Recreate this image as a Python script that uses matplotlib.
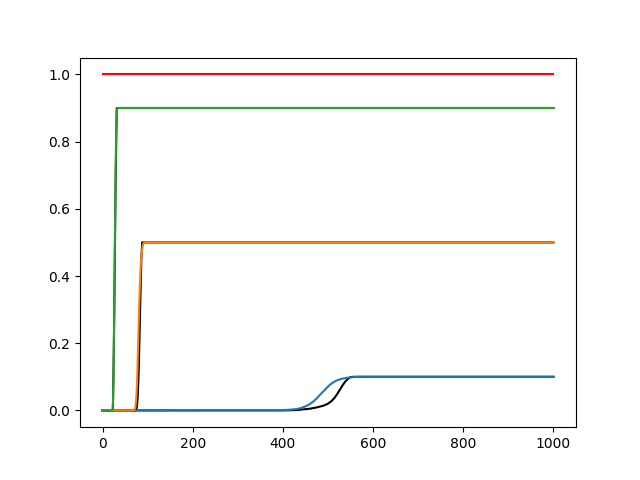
import matplotlib
matplotlib.use("Agg")
import matplotlib.pyplot as plt

# carrying capacity line
cap_x = [0, 1000]
cap_y = [1.0, 1.0]

# black curves (simulated)
sim_lo_x = [0, 400, 430, 445, 460, 475, 490, 500, 508, 515, 521, 527, 533, 539, 545, 550, 556, 1000]
sim_lo_y = [0, 0, 0.001, 0.003, 0.005, 0.009, 0.014, 0.02, 0.028, 0.038, 0.05, 0.063, 0.076, 0.087, 0.095, 0.099, 0.1, 0.1]
sim_mid_x = [0, 74, 76, 78, 80, 82, 84, 86, 88, 90, 1000]
sim_mid_y = [0, 0, 0.01, 0.04, 0.11, 0.22, 0.34, 0.45, 0.5, 0.5, 0.5]
sim_hi_x = [0, 23, 25, 27, 29, 31.5, 1000]
sim_hi_y = [0, 0, 0.18, 0.42, 0.68, 0.9, 0.9]

# coloured fitted curves
fit_lo_x = [0, 380, 400, 416, 430, 440, 450, 460, 468, 475, 482, 490, 497, 504, 511, 519, 530, 542, 555, 570, 1000]
fit_lo_y = [0, 0.0005, 0.001, 0.002, 0.004, 0.007, 0.012, 0.019, 0.027, 0.036, 0.046, 0.057, 0.067, 0.076, 0.083, 0.089, 0.094, 0.097, 0.099, 0.1, 0.1]
fit_mid_x = [0, 70, 73, 75, 77, 79, 81, 83, 85, 87, 89, 92, 96, 1000]
fit_mid_y = [0, 0, 0.01, 0.04, 0.1, 0.2, 0.3, 0.38, 0.44, 0.47, 0.49, 0.5, 0.5, 0.5]
fit_hi_x = [0, 22, 23, 24, 26, 28, 30, 31.5, 33, 1000]
fit_hi_y = [0, 0, 0.02, 0.08, 0.3, 0.6, 0.82, 0.89, 0.9, 0.9]

fig, ax = plt.subplots(figsize=(6.4, 4.8), dpi=100)

ax.plot(sim_lo_x, sim_lo_y, 'k')
ax.plot(sim_mid_x, sim_mid_y, 'k')
ax.plot(sim_hi_x, sim_hi_y, 'k')
ax.plot(cap_x, cap_y, 'r')

ax.plot(fit_lo_x, fit_lo_y)
ax.plot(fit_mid_x, fit_mid_y)
ax.plot(fit_hi_x, fit_hi_y)

fig.savefig("out.png")
